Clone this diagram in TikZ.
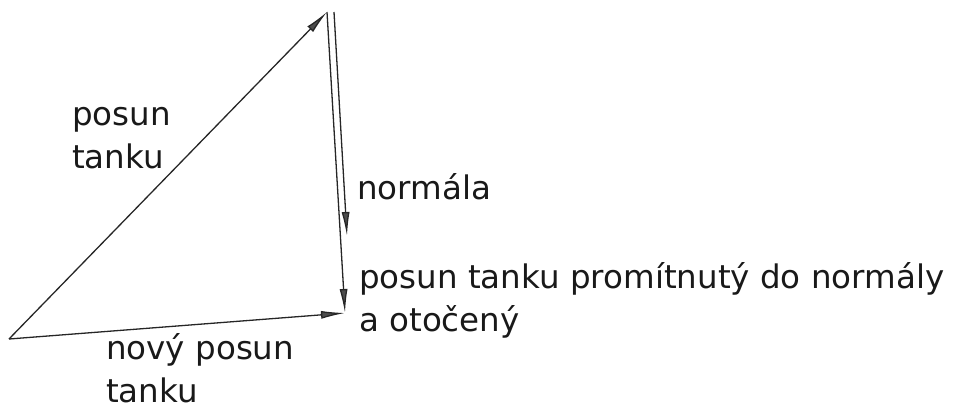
\documentclass[tikz,border=0pt]{standalone}
\usepackage{fontspec}
\setmainfont{DejaVu Sans}
\usetikzlibrary{arrows.meta}
\begin{document}
\begin{tikzpicture}[x=1pt,y=-1pt,
  vec/.style={draw=black!85, line width=1.3pt, -{Latex[length=24pt,width=8pt,fill=black!70]}},
  lbl/.style={anchor=base west, inner sep=0pt, font=\fontsize{32.5}{43}\selectfont, align=left, text=black!90}]
\useasboundingbox (0,0) rectangle (956,410);
\coordinate (A) at (9,339);
\coordinate (B) at (327,12);
\coordinate (C) at (345,313);
\coordinate (N1) at (334,12);
\coordinate (N2) at (347,236);
\draw[vec] (A) -- (B);
\draw[vec] (B) -- (C);
\draw[vec] (N1) -- (N2);
\draw[vec] (A) -- (C);
\node[lbl] (t1) at (72,168) {posun\\tanku};
\node[lbl] (t2) at (357,199) {normála};
\node[lbl] (t3) at (359,331) {posun tanku promítnutý do normály\\a otočený};
\node[lbl] (t4) at (106,402) {nový posun\\tanku};
\end{tikzpicture}
\end{document}
